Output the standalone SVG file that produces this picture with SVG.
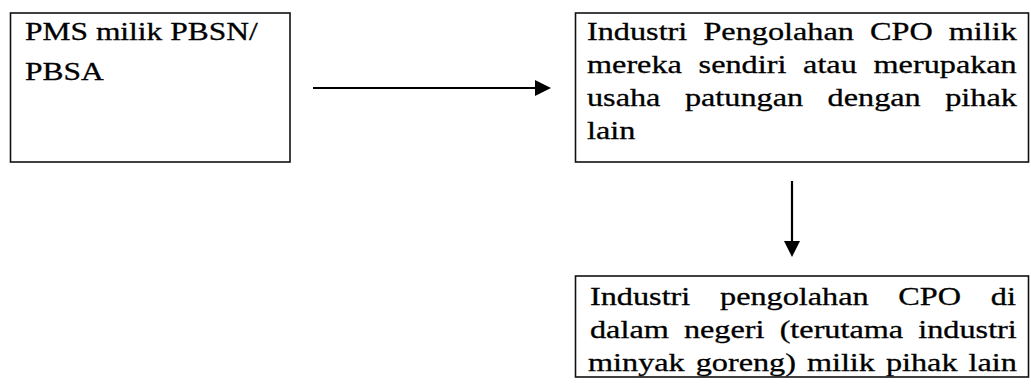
<svg xmlns="http://www.w3.org/2000/svg" width="1031" height="385" viewBox="0 0 1031 385">
  <style>
    .box { fill: #ffffff; stroke: #111111; stroke-width: 1.6; }
    .t { font-family: "Liberation Serif", "Times New Roman", serif; font-size: 25px; fill: #000000; stroke: #000000; stroke-width: 0.3; }
    .conn { stroke: #000000; stroke-width: 2.2; fill: none; }
  </style>
  <defs>
    <marker id="arrow" viewBox="0 0 16 16" refX="0" refY="8" markerWidth="16" markerHeight="16" markerUnits="userSpaceOnUse" orient="auto">
      <path d="M0,0 L16,8 L0,16 z" fill="#000000"/>
    </marker>
  </defs>
  <rect width="1031" height="385" fill="#ffffff"/>

  <g id="node-pms">
    <rect class="box" x="10.5" y="13" width="279.5" height="149"/>
    <text class="t" transform="translate(25,40) scale(1.26,1)">PMS milik PBSN/</text>
    <text class="t" transform="translate(25,80) scale(1.26,1)">PBSA</text>
  </g>

  <g id="node-industri-sendiri">
    <rect class="box" x="575.5" y="13" width="453" height="149"/>
    <text class="t" transform="translate(587,40) scale(1.29,1)" word-spacing="6.25">Industri Pengolahan CPO milik</text>
    <text class="t" transform="translate(587,73) scale(1.29,1)" word-spacing="6.73">mereka sendiri atau merupakan</text>
    <text class="t" transform="translate(587,106) scale(1.29,1)" word-spacing="12.75">usaha patungan dengan pihak</text>
    <text class="t" transform="translate(587,139) scale(1.29,1)">lain</text>
  </g>

  <g id="node-industri-dalam-negeri">
    <rect class="box" x="575.5" y="276" width="453" height="101"/>
    <text class="t" transform="translate(590,305) scale(1.29,1)" word-spacing="16.8">Industri pengolahan CPO di</text>
    <text class="t" transform="translate(590,338) scale(1.29,1)" word-spacing="5.5">dalam negeri (terutama industri</text>
    <text class="t" transform="translate(588,371) scale(1.29,1)" word-spacing="2.25">minyak goreng) milik pihak lain</text>
  </g>

  <g id="connectors">
    <line class="conn" x1="313" y1="88" x2="535" y2="88" marker-end="url(#arrow)"/>
    <line class="conn" x1="792" y1="181" x2="792" y2="241" marker-end="url(#arrow)"/>
  </g>
</svg>
